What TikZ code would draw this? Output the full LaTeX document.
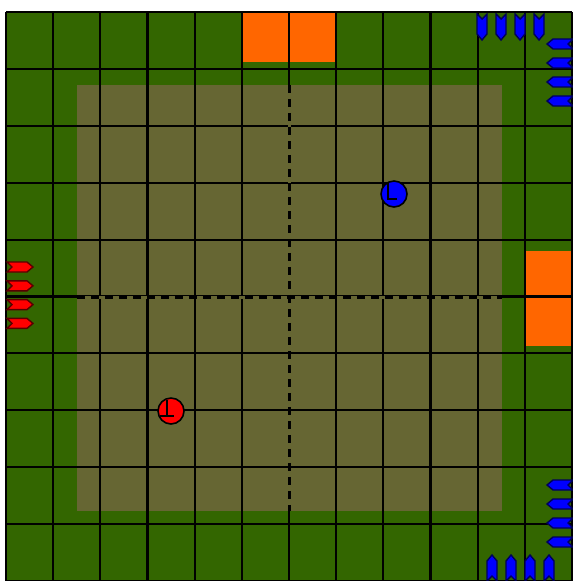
\documentclass[tikz,border=0pt]{standalone}
\usepackage{xcolor}
\usepackage{tikz}
\usetikzlibrary{arrows.meta, positioning}
\definecolor{fldGreen}{HTML}{336600}
\definecolor{fldOlive}{HTML}{666633}
\definecolor{fldGoal}{HTML}{FF6600}
\definecolor{botRed}{HTML}{FF0000}
\definecolor{botBlue}{HTML}{0000FF}
\begin{document}
\begin{tikzpicture}[
  x=0.02cm, y=-0.02cm,
  gridline/.style={line width=1.2pt},
  centreline/.style={line width=1.4pt, dash pattern=on 0.17cm off 0.11cm},
  robot/.style={circle, draw, line width=0.9pt, minimum size=0.52cm, inner sep=0pt},
  headmark/.style={line width=0.8pt},
  chev/.pic={\draw[line width=0.8pt, line join=miter, pic actions]
    (-13,-5) -- (7,-5) -- (13,0) -- (7,5) -- (-13,5) -- (-8,0) -- cycle;}
]
  \useasboundingbox (0,0) rectangle (573,581);
  % field
  \fill[fldGreen] (6,12) rectangle (572,581);
  \fill[fldOlive] (77,85) rectangle (502,511);
  \fill[fldGoal] (243,12) rectangle (337,62);
  \fill[fldGoal] (526,251) rectangle (572,346);
  \foreach \i in {0,...,12} {
    \draw[gridline] ({6+47.17*\i},12) -- ({6+47.17*\i},581);
  }
  \foreach \j in {0,...,10} {
    \draw[gridline] (6,{12+56.9*\j}) -- (572,{12+56.9*\j});
  }
  % centre lines
  \draw[fldOlive, line width=1.8pt] (77,297.5) -- (502,297.5) (289.5,85) -- (289.5,511);
  \draw[centreline] (77,297.5) -- (502,297.5);
  \draw[centreline] (289.5,85) -- (289.5,511);

  % red team
  \foreach \k in {0,...,3} {
    \pic[fill=botRed, draw=botRed!35!black] at (20,{267+18.8*\k}) {chev};
  }
  % blue team
  \foreach \k in {0,...,3} {
    \pic[rotate=-90, fill=botBlue, draw=botBlue!35!black] at ({482+19*\k},27) {chev};
    \pic[rotate=180, fill=botBlue, draw=botBlue!35!black] at (560,{44+19*\k}) {chev};
    \pic[rotate=180, fill=botBlue, draw=botBlue!35!black] at (560,{485+19*\k}) {chev};
    \pic[rotate=90, fill=botBlue, draw=botBlue!35!black] at ({492+19*\k},568) {chev};
  }
  \draw[line width=1.6pt] (6,12) -- (572,12);

  % robots
  \node[robot, fill=botBlue] (blueBot) at (394,194) {};
  \node[robot, fill=botRed] (redBot) at (171,411) {};
  \draw[headmark] ([shift={(-6,-12)}]blueBot.center) -- ([shift={(-6,5)}]blueBot.center)
    -- ([shift={(3,5)}]blueBot.center);
  \draw[headmark] ([shift={(-4,-11)}]redBot.center) -- ([shift={(-4,5)}]redBot.center)
    ([shift={(-11,5)}]redBot.center) -- ([shift={(3,5)}]redBot.center);
\end{tikzpicture}
\end{document}
